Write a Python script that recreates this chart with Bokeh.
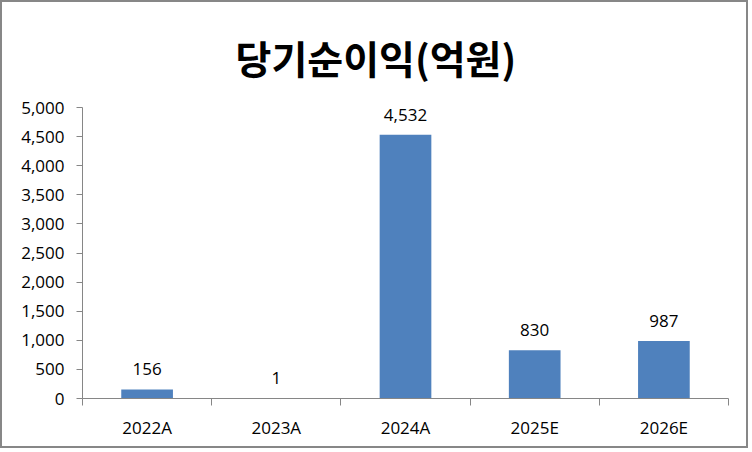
from bokeh.plotting import figure
from bokeh.models import (ColumnDataSource, Range1d, FactorRange, LinearAxis, CategoricalAxis,
                          FixedTicker, NumeralTickFormatter, LabelSet, Title)
from bokeh.core.properties import value
from bokeh.embed import file_html
from bokeh.resources import INLINE

categories = ["2022A", "2023A", "2024A", "2025E", "2026E"]
values = [156, 1, 4532, 830, 987]
value_labels = ["156", "1", "4,532", "830", "987"]
y_ticks = [0, 500, 1000, 1500, 2000, 2500, 3000, 3500, 4000, 4500, 5000]
title_text = "당기순이익(억원)"

FONT = "Open Sans"
AXIS_GRAY = "#868686"

src = ColumnDataSource(dict(cat=categories, val=values, lab=value_labels))

p = figure(width=748, height=448, output_backend="svg", toolbar_location=None,
           x_range=FactorRange(*categories, range_padding=0), y_range=Range1d(0, 5000),
           x_axis_location=None, y_axis_location=None,
           min_border_left=80, min_border_right=22, min_border_bottom=52, min_border_top=105)
p.styles = {"border": "2px solid #878787"}
p.outline_line_color = None
p.xgrid.grid_line_color = None
p.ygrid.grid_line_color = None
p.background_fill_color = "white"
p.border_fill_color = "white"

p.title = Title(text=title_text, align="left", text_font="Noto Sans CJK KR",
                text_font_size="39px", text_font_style="bold", text_color="black",
                standoff=45, offset=153)

p.vbar(x="cat", top="val", width=0.4, source=src, fill_color="#4F81BD", line_color=None)

p.add_layout(LabelSet(x="cat", y="val", text="lab", source=src, text_align="center",
                      text_baseline="bottom", y_offset=14, text_font_size="17px",
                      text_font=value(FONT), text_color="black"))

yaxis = LinearAxis(ticker=FixedTicker(ticks=y_ticks),
                   formatter=NumeralTickFormatter(format="0,0"))
yaxis.axis_line_color = AXIS_GRAY
yaxis.major_tick_line_color = AXIS_GRAY
yaxis.major_tick_out = 6
yaxis.major_tick_in = 0
yaxis.minor_tick_line_color = None
yaxis.major_label_text_font = FONT
yaxis.major_label_text_font_size = "17px"
yaxis.major_label_text_color = "black"
yaxis.major_label_standoff = 12
p.add_layout(yaxis, "left")

# separator ticks between categories (synthetic coordinates of the factor range)
sep_ticks = list(range(len(categories) + 1))
sep_axis = LinearAxis(ticker=FixedTicker(ticks=sep_ticks))
sep_axis.axis_line_color = AXIS_GRAY
sep_axis.major_tick_line_color = AXIS_GRAY
sep_axis.major_tick_out = 7
sep_axis.major_tick_in = 0
sep_axis.minor_tick_line_color = None
sep_axis.major_label_overrides = {t: "" for t in sep_ticks}
sep_axis.major_label_standoff = 0
p.add_layout(sep_axis, "below")

xaxis = CategoricalAxis()
xaxis.axis_line_color = None
xaxis.major_tick_line_color = None
xaxis.minor_tick_line_color = None
xaxis.major_label_text_font = FONT
xaxis.major_label_text_font_size = "17px"
xaxis.major_label_text_color = "black"
xaxis.major_label_standoff = 4
p.add_layout(xaxis, "below")

open("out.html", "w").write(file_html(p, INLINE))
